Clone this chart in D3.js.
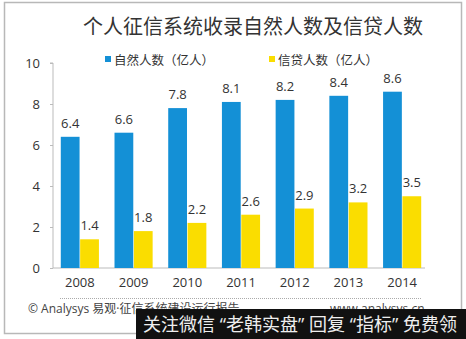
<!DOCTYPE html>
<html><head><meta charset="utf-8">
<script src="https://cdn.jsdelivr.net/npm/d3@7"></script>
<style>body{margin:0;background:#fff;}svg{display:block;font-family:"Open Sans","Noto Sans CJK SC",sans-serif;}</style>
</head><body>
<svg id="c" width="466" height="339"></svg>
<script>
const years = ["2008","2009","2010","2011","2012","2013","2014"];
const naturalPersons = [6.4,6.6,7.8,8.1,8.2,8.4,8.6];
const creditPersons = [1.4,1.8,2.2,2.6,2.9,3.2,3.5];
const yTicks = [0,2,4,6,8,10];
const seriesNames = ["自然人数（亿人）","信贷人数（亿人）"];
const colors = ["#1490d6","#fadd00"];

const svg = d3.select("#c");
// frame
svg.append("rect").attr("x",4.5).attr("y",2.5).attr("width",457).attr("height",331)
  .attr("fill","#fff").attr("stroke","#b8b8b8").attr("stroke-width",1.5);

const x = d3.scaleBand().domain(years).range([53,429]).paddingInner(0.29).paddingOuter(0.145);
const y = d3.scaleLinear().domain([0,10]).range([268,63]);
const xs = d3.scaleBand().domain([0,1]).range([0,x.bandwidth()]).paddingInner(0.03);

svg.append("text").attr("x",253).attr("y",34).attr("text-anchor","middle")
  .attr("font-size",20).attr("fill","#333").text("个人征信系统收录自然人数及信贷人数");

// legend
const leg = [{x:105,name:seriesNames[0],c:colors[0]},{x:269,name:seriesNames[1],c:colors[1]}];
leg.forEach(l=>{
  svg.append("rect").attr("x",l.x).attr("y",56).attr("width",6).attr("height",6).attr("fill",l.c);
  svg.append("text").attr("x",l.x+9).attr("y",64.5).attr("font-size",12.5).attr("fill","#333").text(l.name);
});

// y axis
const ya = svg.append("g").attr("transform","translate(53,0)")
  .call(d3.axisLeft(y).tickValues(yTicks).tickSize(3).tickPadding(10));
ya.select(".domain").attr("stroke","#bbb").attr("d","M-3,"+y(10)+"H0V"+y(0));
ya.selectAll(".tick line").attr("stroke","#bbb");
ya.selectAll("text").attr("font-size",13).attr("fill","#333").attr("font-family","Open Sans, sans-serif");

// x axis
const xa = svg.append("g").attr("transform","translate(0,268)")
  .call(d3.axisBottom(x).tickSize(0).tickPadding(10));
xa.select(".domain").attr("stroke","#bbb").attr("d","M53,0H425");
xa.selectAll("text").attr("font-size",13).attr("fill","#333").attr("font-family","Open Sans, sans-serif");

const data = years.map((yr,i)=>({yr,v:[naturalPersons[i],creditPersons[i]]}));
const g = svg.append("g");
data.forEach(d=>{
  d.v.forEach((v,k)=>{
    g.append("rect").attr("x",x(d.yr)+xs(k)).attr("y",y(v)).attr("width",xs.bandwidth())
      .attr("height",y(0)-y(v)).attr("fill",colors[k]);
    g.append("text").attr("x",x(d.yr)+xs(k)+xs.bandwidth()/2).attr("y",y(v)-9)
      .attr("text-anchor","middle").attr("font-size",13).attr("fill","#333").text(v.toFixed(1));
  });
});

// footer
svg.append("line").attr("x1",60).attr("x2",422).attr("y1",298.5).attr("y2",298.5)
  .attr("stroke","#aaa").attr("stroke-dasharray","1,1");
svg.append("text").attr("x",28).attr("y",313).attr("font-size",12).attr("fill","#444").text("© Analysys 易观·征信系统建设运行报告");
svg.append("text").attr("x",330).attr("y",313).attr("font-size",12).attr("fill","#444").text("www.analysys.cn");
svg.append("rect").attr("x",136).attr("y",309).attr("width",330).attr("height",30).attr("fill","#111");
svg.append("text").attr("x",143).attr("y",331).attr("font-size",18).attr("fill","#eee")
  .attr("textLength",314).attr("lengthAdjust","spacing").text("关注微信 “老韩实盘” 回复 “指标” 免费领");
</script>
</body></html>
